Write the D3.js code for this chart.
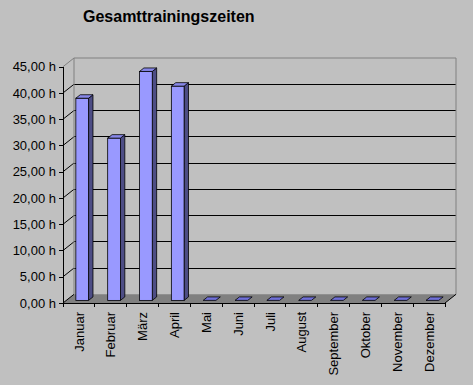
<!DOCTYPE html>
<html>
<head>
<meta charset="utf-8">
<script src="https://cdn.jsdelivr.net/npm/d3@7"></script>
<style>
  body { margin: 0; background: #c0c0c0; }
  svg { display: block; font-family: Arial, "Liberation Sans", sans-serif; }
  .grid, .bound, .domain, .tick line { shape-rendering: crispEdges; }
</style>
</head>
<body>
<div id="chart"></div>
<script>
// Gesamttrainingszeiten pro Monat (Stunden)
let months = ["Januar", "Februar", "März", "April", "Mai", "Juni", "Juli",
              "August", "September", "Oktober", "November", "Dezember"];
let hours = [38.5, 30.9, 43.6, 40.8, 0, 0, 0, 0, 0, 0, 0, 0];
let yTicks = [0, 5, 10, 15, 20, 25, 30, 35, 40, 45];

let drawChart = function(){
    let width = 473, height = 385;
    // depth of the 3d box, and where the bars sit inside it
    let DX = 11, DY = -8.7;
    let barFrom = 0.3, barDepth = 0.4;

    let colors = {front: '#9999ff', top: '#8787e8', side: '#4d4d85',
                  floor: '#808080', wall: '#808080'};

    let svg = d3.select('#chart').append('svg')
        .attr('width', width)
        .attr('height', height);

    svg.append('rect').attr('width', width).attr('height', height).attr('fill', '#c0c0c0');

    let xScale = d3.scaleBand()
        .domain(months)
        .range([63, 445])
        .paddingInner(0.6)
        .paddingOuter(0.3);

    let yScale = d3.scaleLinear()
        .domain([0, 45])
        .range([303, 66.7]);

    let x0 = 63, x1 = 445, y0 = yScale(0), yTop = yScale(45);

    // floor
    svg.append('polygon')
        .attr('points', [[x0, y0], [x0 + DX, y0 + DY], [x1 + DX, y0 + DY], [x1, y0]].join(' '))
        .attr('fill', colors.floor);

    // back wall gridlines
    svg.selectAll('.grid').data(yTicks.filter(d => d > 0 && d < 45))
        .enter().append('line')
        .attr('class', 'grid')
        .attr('x1', x0 + DX).attr('x2', x1 + DX)
        .attr('y1', d => yScale(d) + DY).attr('y2', d => yScale(d) + DY)
        .attr('stroke', '#000').attr('stroke-width', 1);

    // left wall diagonals
    svg.selectAll('.diag').data(yTicks.filter(d => d < 45))
        .enter().append('line')
        .attr('class', 'diag')
        .attr('x1', x0).attr('x2', x0 + DX)
        .attr('y1', d => yScale(d)).attr('y2', d => yScale(d) + DY)
        .attr('stroke', '#000').attr('stroke-width', 1);

    // wall border
    svg.append('path')
        .attr('d', 'M' + x0 + ',' + yTop + 'L' + (x0 + DX) + ',' + (yTop + DY) +
                   'L' + (x1 + DX) + ',' + (yTop + DY) + 'L' + (x1 + DX) + ',' + (y0 + DY))
        .attr('fill', 'none').attr('stroke', colors.wall);
    svg.append('line')
        .attr('x1', x0 + DX).attr('x2', x0 + DX)
        .attr('y1', yTop + DY).attr('y2', y0 + DY)
        .attr('stroke', colors.wall);
    svg.append('line')
        .attr('x1', x1).attr('y1', y0).attr('x2', x1 + DX).attr('y2', y0 + DY)
        .attr('stroke', '#000');

    // bars
    let bw = xScale.bandwidth();
    let ox = barFrom * DX, oy = barFrom * DY;
    let bx = barDepth * DX, by = barDepth * DY;

    let bars = svg.selectAll('.bar').data(months.map((m, i) => ({m: m, v: hours[i]})))
        .enter().append('g').attr('class', 'bar');

    bars.filter(d => d.v > 0).append('polygon')
        .attr('points', function(d){
            let x = xScale(d.m) + ox, yt = yScale(d.v) + oy, yb = y0 + oy;
            return [[x + bw, yt], [x + bw + bx, yt + by], [x + bw + bx, yb + by], [x + bw, yb]].join(' ');
        })
        .attr('fill', colors.side).attr('stroke', '#000').attr('stroke-width', 0.8);

    bars.filter(d => d.v > 0).append('rect')
        .attr('x', d => xScale(d.m) + ox)
        .attr('y', d => yScale(d.v) + oy)
        .attr('width', bw)
        .attr('height', d => y0 - yScale(d.v))
        .attr('fill', colors.front).attr('stroke', '#000').attr('stroke-width', 0.8);

    bars.append('polygon')
        .attr('points', function(d){
            let x = xScale(d.m) + ox, yt = yScale(d.v) + oy;
            return [[x, yt], [x + bw, yt], [x + bw + bx, yt + by], [x + bx, yt + by]].join(' ');
        })
        .attr('fill', d => d.v > 0 ? colors.top : '#7070d8')
        .attr('stroke', '#000').attr('stroke-width', 0.8);

    // y axis
    let fmt = d => d3.format('.2f')(d).replace('.', ',') + ' h';
    let yAxis = svg.append('g')
        .attr('transform', 'translate(' + x0 + ',0)')
        .call(d3.axisLeft(yScale).tickValues(yTicks).tickFormat(fmt)
              .tickSize(4).tickSizeOuter(0).tickPadding(3));
    yAxis.selectAll('path, line').attr('stroke', '#000');
    yAxis.selectAll('text')
        .attr('font-size', 13)
        .attr('font-family', 'Arial, "Liberation Sans", sans-serif')
        .attr('fill', '#000');

    // x axis: line, ticks at category boundaries, rotated labels
    let xAxis = svg.append('g')
        .attr('transform', 'translate(0,' + y0 + ')')
        .call(d3.axisBottom(xScale).tickSize(0).tickPadding(0));
    xAxis.select('.domain').attr('stroke', '#000');
    xAxis.selectAll('text')
        .attr('font-size', 13)
        .attr('font-family', 'Arial, "Liberation Sans", sans-serif')
        .attr('fill', '#000')
        .attr('text-anchor', 'end')
        .attr('transform', 'rotate(-90)')
        .attr('x', -9)
        .attr('y', 0)
        .attr('dy', '0.36em');

    xAxis.selectAll('.bound').data(d3.range(months.length + 1))
        .enter().append('line')
        .attr('class', 'bound')
        .attr('x1', i => x0 + i * xScale.step()).attr('x2', i => x0 + i * xScale.step())
        .attr('y1', 0).attr('y2', 4)
        .attr('stroke', '#000');

    // title
    svg.append('text')
        .attr('x', 83).attr('y', 22)
        .attr('font-size', 16)
        .attr('font-weight', 'bold')
        .text('Gesamttrainingszeiten');
};

drawChart();
</script>
</body>
</html>
